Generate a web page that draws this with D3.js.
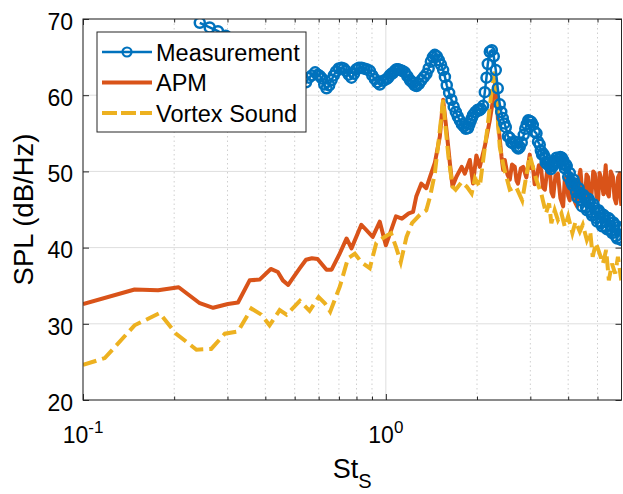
<!DOCTYPE html>
<html>
<head>
<meta charset="utf-8">
<script src="https://cdn.jsdelivr.net/npm/d3@7"></script>
<style>
  body { margin: 0; background: #fff; }
  svg { display: block; font-family: "Liberation Sans", Arial, Helvetica, sans-serif; }
</style>
</head>
<body>
<div id="chart"></div>
<script>
// [St, SPL] pairs
const measurement = [
  [0.243,69.5],[0.262,68.9],[0.279,68.4],[0.296,67.8],[0.33,66.6],[0.37,65.4],[0.42,64.3],[0.47,63.2],[0.51,62.4],
  [0.545,61.7],[0.557,62.3],[0.570,62.6],[0.584,63.0],[0.597,62.7],[0.606,62.5],[0.615,62.2],[0.626,61.4],[0.637,60.9],
  [0.650,61.3],[0.662,62.0],[0.673,62.6],[0.684,63.1],[0.699,63.5],[0.714,63.6],[0.726,63.5],[0.738,63.2],[0.754,62.7],
  [0.770,62.3],[0.785,62.8],[0.800,63.4],[0.815,63.6],[0.831,63.6],[0.847,63.5],[0.864,63.4],[0.885,63.2],[0.902,62.6],
  [0.920,62.1],[0.937,61.7],[0.955,61.4],[0.980,61.9],[1.005,62.1],[1.018,62.3],[1.030,62.6],[1.043,62.8],[1.055,62.9],
  [1.070,63.2],[1.085,63.4],[1.098,63.4],[1.112,63.3],[1.133,63.2],[1.155,63.0],[1.178,62.5],[1.200,62.0],[1.215,61.8],
  [1.230,61.6],[1.246,61.3],[1.263,61.2],[1.287,61.5],[1.312,62.0],[1.337,62.4],[1.362,62.8],[1.385,63.5],[1.408,64.4],
  [1.430,65.0],[1.451,65.3],[1.474,65.1],[1.496,64.6],[1.521,64.0],[1.546,63.3],[1.567,62.4],[1.589,61.3],[1.618,60.3],
  [1.647,59.4],[1.675,58.5],[1.702,57.8],[1.728,57.2],[1.755,56.7],[1.782,56.2],[1.809,55.9],[1.838,55.6],[1.869,55.7],
  [1.887,56.2],[1.905,56.6],[1.923,57.0],[1.942,57.4],[1.976,57.8],[2.012,58.1],[2.036,58.0],[2.060,58.2],[2.095,58.6],
  [2.122,60.4],[2.149,62.3],[2.171,64.1],[2.204,65.7],[2.238,65.9],[2.272,65.1],[2.307,63.3],[2.342,60.9],[2.378,58.8],
  [2.405,57.8],[2.433,57.0],[2.461,56.3],[2.489,55.8],[2.530,54.6],[2.566,54.4],[2.600,53.8],[2.631,53.7],[2.670,53.9],
  [2.706,53.2],[2.737,53.0],[2.768,53.2],[2.810,53.8],[2.854,54.8],[2.887,55.6],[2.920,56.2],[2.953,56.7],[2.987,56.6],
  [3.020,56.5],[3.056,56.1],[3.100,55.2],[3.144,55.0],[3.180,53.9],[3.223,53.5],[3.250,52.7],[3.280,52.2],[3.310,52.3],
  [3.347,51.9],[3.370,51.2],[3.400,51.0],[3.451,51.1],[3.480,50.6],[3.510,50.3],[3.540,50.9],[3.566,50.7],[3.600,51.1],
  [3.630,51.4],[3.660,51.8],[3.695,51.2],[3.730,51.6],[3.770,51.9],[3.810,51.8],[3.847,51.5],[3.870,50.9],[3.900,50.4],
  [3.930,50.9],[3.957,50.7],[4.000,49.3],[4.048,49.8],[4.090,48.6],[4.130,48.2],[4.170,48.9],[4.205,48.4],[4.250,47.3],
  [4.290,46.6],[4.330,47.8],[4.368,47.2],[4.410,46.2],[4.450,45.4],[4.490,46.9],[4.537,46.6],[4.580,45.3],[4.620,44.9],
  [4.670,46.4],[4.713,46.0],[4.760,44.6],[4.800,44.2],[4.850,45.7],[4.895,45.2],[4.940,43.9],[4.990,43.4],[5.040,44.9],
  [5.085,44.6],[5.130,43.2],[5.180,42.8],[5.230,44.3],[5.282,44.1],[5.330,42.7],[5.380,42.4],[5.430,43.9],[5.487,43.7],
  [5.540,42.2],[5.590,41.9],[5.640,43.3],[5.699,43.0],[5.750,41.5],[5.810,41.2],[5.860,42.7],[5.920,42.4],[6.000,41.0]
];

const apm = [
  [0.100,32.6],[0.148,34.5],[0.177,34.4],[0.207,34.8],[0.243,32.7],[0.269,32.1],[0.301,32.6],[0.325,32.8],[0.355,35.7],
  [0.383,35.8],[0.417,37.2],[0.440,36.8],[0.457,35.7],[0.476,35.1],[0.497,36.2],[0.520,37.3],[0.545,38.4],[0.570,38.6],
  [0.595,38.5],[0.637,37.1],[0.662,37.1],[0.700,39.0],[0.742,41.2],[0.770,39.9],[0.830,43.0],[0.905,41.4],[0.955,43.4],
  [1.000,40.3],[1.080,44.1],[1.130,43.8],[1.190,44.5],[1.230,44.7],[1.260,46.7],[1.310,48.4],[1.360,47.8],[1.400,49.3],
  [1.451,51.1],[1.508,54.6],[1.546,59.4],[1.586,55.4],[1.627,51.1],[1.660,48.0],[1.710,49.3],[1.780,50.6],[1.823,49.7],
  [1.894,51.5],[1.940,48.4],[1.990,52.1],[2.043,50.6],[2.122,53.3],[2.204,56.7],[2.260,59.4],[2.300,62.0],[2.350,56.3],
  [2.410,51.9],[2.440,50.2],[2.470,51.5],[2.520,49.6],[2.566,48.9],[2.610,50.9],[2.665,50.6],[2.700,48.8],[2.730,48.4],
  [2.790,50.4],[2.840,50.6],[2.910,49.2],[2.987,52.2],[3.020,50.4],[3.060,50.6],[3.100,48.3],[3.140,48.9],[3.200,50.8],
  [3.260,50.2],[3.300,47.9],[3.350,47.6],[3.410,50.1],[3.480,50.4],[3.520,47.3],[3.570,46.7],[3.630,49.4],[3.700,49.7],
  [3.770,46.5],[3.850,45.4],[3.900,49.1],[3.950,49.3],[4.000,46.8],[4.050,46.2],[4.100,49.5],[4.150,48.9],[4.210,46.0],
  [4.280,45.4],[4.330,49.0],[4.390,50.2],[4.460,46.9],[4.540,46.2],[4.600,49.6],[4.650,49.3],[4.710,46.3],[4.770,46.7],
  [4.840,50.0],[4.900,49.7],[4.960,46.8],[5.020,46.2],[5.080,49.8],[5.150,48.9],[5.230,47.0],[5.320,50.8],[5.380,47.2],
  [5.450,46.7],[5.530,50.0],[5.620,49.3],[5.690,46.5],[5.760,45.8],[5.840,49.2],[5.920,49.7],[5.960,46.4],[6.000,45.5]
];

const vortexSound = [
  [0.100,24.6],[0.118,25.5],[0.148,29.8],[0.179,31.4],[0.203,28.7],[0.237,26.6],[0.265,26.7],[0.294,28.7],[0.325,29.0],
  [0.360,32.0],[0.388,31.2],[0.413,29.8],[0.446,31.8],[0.470,31.2],[0.520,33.0],[0.560,31.7],[0.600,33.5],[0.629,32.7],
  [0.655,31.6],[0.705,34.9],[0.750,38.6],[0.790,39.2],[0.830,38.1],[0.885,37.3],[0.930,40.6],[0.990,41.4],[1.040,41.9],
  [1.080,40.1],[1.120,38.1],[1.170,41.4],[1.220,43.2],[1.295,44.3],[1.360,44.9],[1.400,46.7],[1.451,49.7],[1.500,54.6],
  [1.546,59.4],[1.570,56.3],[1.610,51.9],[1.660,48.0],[1.700,47.6],[1.780,48.6],[1.850,48.0],[1.920,47.1],[1.970,49.1],
  [2.043,48.0],[2.090,51.1],[2.160,55.4],[2.240,60.9],[2.290,63.1],[2.330,58.1],[2.378,53.2],[2.450,50.6],[2.566,47.6],
  [2.690,48.0],[2.820,46.2],[2.987,52.1],[3.140,48.9],[3.260,47.1],[3.300,46.2],[3.380,44.5],[3.460,45.8],[3.520,43.2],
  [3.610,44.9],[3.700,43.6],[3.800,44.5],[3.900,42.7],[4.000,44.1],[4.130,41.9],[4.230,43.4],[4.370,42.1],[4.470,43.0],
  [4.610,41.0],[4.730,42.1],[4.820,38.8],[4.940,40.6],[5.080,39.2],[5.210,37.9],[5.340,39.7],[5.450,35.7],[5.580,37.9],
  [5.720,36.6],[5.840,38.8],[5.990,35.7]
];

const seriesNames = ["Measurement", "APM", "Vortex Sound"];
const seriesColors = ["#0072BD", "#D95319", "#EDB120"];
const yTicks = [20, 30, 40, 50, 60, 70];
const xMajorTicks = [0.1, 1];
const xMinorTicks = [0.2, 0.3, 0.4, 0.5, 0.6, 0.7, 0.8, 0.9, 2, 3, 4, 5];
const xTickExponents = ["-1", "0"];

const width = 623, height = 494;
const plot = { left: 83, right: 621.5, top: 19, bottom: 400 };
const axisColor = "#262626";

const svg = d3.select("#chart").append("svg")
  .attr("width", width)
  .attr("height", height);

svg.append("rect").attr("width", width).attr("height", height).attr("fill", "#fff");

const x = d3.scaleLog().domain([0.1, 6]).range([plot.left, plot.right]);
const y = d3.scaleLinear().domain([20, 70]).range([plot.bottom, plot.top]);

svg.append("defs").append("clipPath")
  .attr("id", "plot-clip")
  .append("rect")
  .attr("x", plot.left)
  .attr("y", plot.top)
  .attr("width", plot.right - plot.left)
  .attr("height", plot.bottom - plot.top);

// grid
const grid = svg.append("g");
grid.selectAll("line.minor")
  .data(xMinorTicks)
  .join("line")
  .attr("class", "minor")
  .attr("x1", d => x(d)).attr("x2", d => x(d))
  .attr("y1", plot.top).attr("y2", plot.bottom)
  .attr("stroke", "#cfcfcf")
  .attr("stroke-width", 1)
  .attr("stroke-dasharray", "1.5,3");

grid.selectAll("line.majorx")
  .data(xMajorTicks)
  .join("line")
  .attr("class", "majorx")
  .attr("x1", d => x(d)).attr("x2", d => x(d))
  .attr("y1", plot.top).attr("y2", plot.bottom)
  .attr("stroke", "#dedede")
  .attr("stroke-width", 1);

grid.selectAll("line.majory")
  .data(yTicks)
  .join("line")
  .attr("class", "majory")
  .attr("x1", plot.left).attr("x2", plot.right)
  .attr("y1", d => y(d)).attr("y2", d => y(d))
  .attr("stroke", "#dedede")
  .attr("stroke-width", 1);

// data
const plotG = svg.append("g").attr("clip-path", "url(#plot-clip)");
const line = d3.line().x(d => x(d[0])).y(d => y(d[1]));

plotG.append("path")
  .datum(apm)
  .attr("d", line)
  .attr("fill", "none")
  .attr("stroke", seriesColors[1])
  .attr("stroke-width", 4)
  .attr("stroke-linejoin", "round");

plotG.append("path")
  .datum(vortexSound)
  .attr("d", line)
  .attr("fill", "none")
  .attr("stroke", seriesColors[2])
  .attr("stroke-width", 4)
  .attr("stroke-dasharray", "14,6");

plotG.append("path")
  .datum(measurement)
  .attr("d", line)
  .attr("fill", "none")
  .attr("stroke", seriesColors[0])
  .attr("stroke-width", 2.5);

plotG.selectAll("circle.meas")
  .data(measurement)
  .join("circle")
  .attr("class", "meas")
  .attr("cx", d => x(d[0]))
  .attr("cy", d => y(d[1]))
  .attr("r", 5)
  .attr("fill", "none")
  .attr("stroke", seriesColors[0])
  .attr("stroke-width", 2.5);

// axes (ticks inside, box)
const tickStyle = g => {
  g.select(".domain").remove();
  g.selectAll(".tick line").attr("stroke", axisColor);
};

svg.append("g")
  .attr("transform", `translate(0,${plot.bottom})`)
  .call(d3.axisBottom(x).tickValues(xMajorTicks).tickSize(-6).tickFormat(""))
  .call(tickStyle);
svg.append("g")
  .attr("transform", `translate(0,${plot.bottom})`)
  .call(d3.axisBottom(x).tickValues(xMinorTicks).tickSize(-3.5).tickFormat(""))
  .call(tickStyle);
svg.append("g")
  .attr("transform", `translate(0,${plot.top})`)
  .call(d3.axisTop(x).tickValues(xMajorTicks).tickSize(-6).tickFormat(""))
  .call(tickStyle);
svg.append("g")
  .attr("transform", `translate(0,${plot.top})`)
  .call(d3.axisTop(x).tickValues(xMinorTicks).tickSize(-3.5).tickFormat(""))
  .call(tickStyle);

const yAxis = svg.append("g")
  .attr("transform", `translate(${plot.left},0)`)
  .call(d3.axisLeft(y).tickValues(yTicks).tickSize(-6).tickPadding(10))
  .call(tickStyle);
yAxis.selectAll(".tick text")
  .attr("fill", "#000")
  .attr("dy", "0.45em")
  .style("font-size", "23px")
  .style("font-family", "'Liberation Sans', Arial, sans-serif");

svg.append("g")
  .attr("transform", `translate(${plot.right},0)`)
  .call(d3.axisRight(y).tickValues(yTicks).tickSize(-6).tickFormat(""))
  .call(tickStyle);

svg.append("rect")
  .attr("x", plot.left)
  .attr("y", plot.top)
  .attr("width", plot.right - plot.left)
  .attr("height", plot.bottom - plot.top)
  .attr("fill", "none")
  .attr("stroke", axisColor)
  .attr("stroke-width", 1);

// x tick labels 10^n
const xLabels = svg.append("g")
  .selectAll("text")
  .data(xMajorTicks)
  .join("text")
  .attr("x", d => x(d))
  .attr("y", 443)
  .attr("text-anchor", "middle")
  .style("font-size", "23px")
  .attr("fill", "#000");
xLabels.append("tspan").text("10");
xLabels.append("tspan")
  .attr("dy", -10)
  .style("font-size", "17px")
  .text((d, i) => xTickExponents[i]);

// axis labels
const xTitle = svg.append("text")
  .attr("x", (plot.left + plot.right) / 2)
  .attr("y", 478)
  .attr("text-anchor", "middle")
  .style("font-size", "27px")
  .attr("fill", "#000");
xTitle.append("tspan").text("St");
xTitle.append("tspan").attr("dy", 10).style("font-size", "20px").text("S");

svg.append("text")
  .attr("transform", `translate(33,${(plot.top + plot.bottom) / 2}) rotate(-90)`)
  .attr("text-anchor", "middle")
  .style("font-size", "27.5px")
  .attr("fill", "#000")
  .text("SPL (dB/Hz)");

// legend
const legend = svg.append("g");
legend.append("rect")
  .attr("x", 97).attr("y", 32)
  .attr("width", 209).attr("height", 100)
  .attr("fill", "#fff")
  .attr("stroke", axisColor)
  .attr("stroke-width", 1);

const rowY = [52, 82.5, 113];
const rows = legend.selectAll("g.row")
  .data(seriesNames)
  .join("g")
  .attr("class", "row")
  .attr("transform", (d, i) => `translate(0,${rowY[i]})`);

rows.append("line")
  .attr("x1", 102).attr("x2", 152)
  .attr("stroke", (d, i) => seriesColors[i])
  .attr("stroke-width", (d, i) => i === 0 ? 2.5 : 4)
  .attr("stroke-dasharray", (d, i) => i === 2 ? "15,4" : null);

rows.filter((d, i) => i === 0)
  .append("circle")
  .attr("cx", 127).attr("r", 4.5)
  .attr("fill", "none")
  .attr("stroke", seriesColors[0])
  .attr("stroke-width", 2.2);

rows.append("text")
  .attr("x", 156)
  .attr("y", 8.5)
  .style("font-size", "23.5px")
  .attr("fill", "#000")
  .text(d => d);
</script>
</body>
</html>
